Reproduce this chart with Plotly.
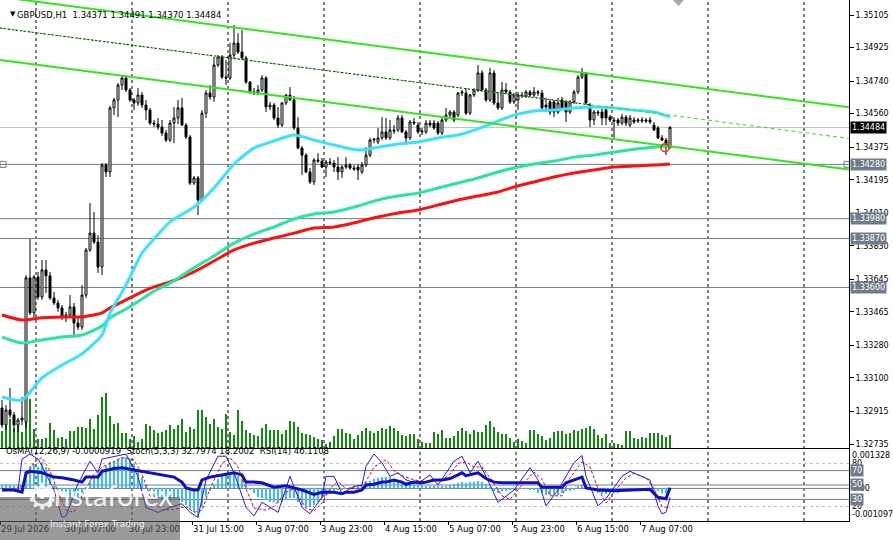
import numpy as np
import plotly.graph_objects as go

# ------------------------------------------------------------
# GBPUSD H1 bars (bar 0 = left edge)
# ------------------------------------------------------------
opens = [
    1.32934, 1.32840, 1.32923, 1.32895, 1.32840, 1.32868, 1.32857, 1.33653, 1.33459, 1.33658,
    1.33547, 1.33697, 1.33664, 1.33542, 1.33514, 1.33487, 1.33437, 1.33448, 1.33492, 1.33403,
    1.33381, 1.33558, 1.33807, 1.33900, 1.33851, 1.33713, 1.34276, 1.34238, 1.34592, 1.34636,
    1.34718, 1.34757, 1.34691, 1.34636, 1.34619, 1.34663, 1.34608, 1.34580, 1.34508, 1.34503,
    1.34486, 1.34453, 1.34414, 1.34508, 1.34536, 1.34592, 1.34497, 1.34431, 1.34177, 1.34205,
    1.34083, 1.34563, 1.34674, 1.34652, 1.34829, 1.34873, 1.34762, 1.34757, 1.34884, 1.34950,
    1.34901, 1.34868, 1.34735, 1.34680, 1.34674, 1.34691, 1.34757, 1.34597, 1.34608, 1.34536,
    1.34497, 1.34619, 1.34663, 1.34636, 1.34481, 1.34370, 1.34331, 1.34238, 1.34183, 1.34304,
    1.34298, 1.34265, 1.34293, 1.34287, 1.34265, 1.34238, 1.34265, 1.34276, 1.34260, 1.34265,
    1.34238, 1.34276, 1.34331, 1.34414, 1.34403, 1.34426, 1.34459, 1.34426, 1.34470, 1.34470,
    1.34536, 1.34459, 1.34426, 1.34514, 1.34497, 1.34459, 1.34459, 1.34508, 1.34508, 1.34508,
    1.34453, 1.34525, 1.34552, 1.34569, 1.34552, 1.34674, 1.34674, 1.34563, 1.34663, 1.34691,
    1.34785, 1.34691, 1.34636, 1.34785, 1.34619, 1.34592, 1.34691, 1.34680, 1.34625, 1.34636,
    1.34663, 1.34658, 1.34680, 1.34663, 1.34674, 1.34674, 1.34608, 1.34625, 1.34625, 1.34569,
    1.34636, 1.34625, 1.34569, 1.34625, 1.34680, 1.34762, 1.34785, 1.34608, 1.34525, 1.34569,
    1.34569, 1.34580, 1.34541, 1.34525, 1.34525, 1.34508, 1.34541, 1.34497, 1.34525, 1.34519,
    1.34519, 1.34525, 1.34525, 1.34497, 1.34481, 1.34426, 1.34414, 1.34371,
]
highs = [
    1.32978, 1.32950, 1.33045, 1.32912, 1.32879, 1.32995, 1.33669, 1.33867, 1.33669, 1.33686,
    1.33752, 1.33752, 1.33686, 1.33575, 1.33531, 1.33503, 1.33465, 1.33558, 1.33514, 1.33432,
    1.33613, 1.33818, 1.34066, 1.34017, 1.33889, 1.34287, 1.34287, 1.34603, 1.34647, 1.34729,
    1.34768, 1.34773, 1.34702, 1.34647, 1.34702, 1.34680, 1.34636, 1.34592, 1.34525, 1.34536,
    1.34525, 1.34470, 1.34525, 1.34597, 1.34636, 1.34647, 1.34508, 1.34442, 1.34216, 1.34216,
    1.34580, 1.34691, 1.34718, 1.34873, 1.34884, 1.34884, 1.34857, 1.34950, 1.35050, 1.35005,
    1.35022, 1.34879, 1.34740, 1.34702, 1.34718, 1.34773, 1.34768, 1.34625, 1.34619, 1.34597,
    1.34625, 1.34669, 1.34707, 1.34658, 1.34541, 1.34381, 1.34342, 1.34260, 1.34315, 1.34342,
    1.34315, 1.34304, 1.34315, 1.34304, 1.34320, 1.34276, 1.34320, 1.34287, 1.34276, 1.34282,
    1.34293, 1.34375, 1.34426, 1.34426, 1.34481, 1.34541, 1.34536, 1.34525, 1.34497, 1.34552,
    1.34552, 1.34470, 1.34525, 1.34536, 1.34514, 1.34481, 1.34525, 1.34525, 1.34525, 1.34519,
    1.34536, 1.34592, 1.34580, 1.34580, 1.34680, 1.34691, 1.34702, 1.34669, 1.34702, 1.34829,
    1.34801, 1.34702, 1.34813, 1.34801, 1.34680, 1.34735, 1.34729, 1.34691, 1.34674, 1.34680,
    1.34680, 1.34691, 1.34691, 1.34707, 1.34691, 1.34691, 1.34647, 1.34636, 1.34636, 1.34647,
    1.34652, 1.34636, 1.34636, 1.34691, 1.34773, 1.34813, 1.34790, 1.34619, 1.34580, 1.34580,
    1.34592, 1.34592, 1.34552, 1.34541, 1.34536, 1.34558, 1.34552, 1.34552, 1.34541, 1.34536,
    1.34541, 1.34536, 1.34541, 1.34514, 1.34492, 1.34442, 1.34426, 1.34491,
]
lows = [
    1.32824, 1.32813, 1.32879, 1.32802, 1.32802, 1.32840, 1.32824, 1.33448, 1.33432, 1.33531,
    1.33531, 1.33569, 1.33531, 1.33503, 1.33465, 1.33420, 1.33409, 1.33432, 1.33337, 1.33365,
    1.33365, 1.33542, 1.33796, 1.33840, 1.33680, 1.33669, 1.34210, 1.34210, 1.34552, 1.34541,
    1.34691, 1.34680, 1.34625, 1.34580, 1.34603, 1.34592, 1.34525, 1.34497, 1.34486, 1.34470,
    1.34437, 1.34403, 1.34403, 1.34397, 1.34503, 1.34492, 1.34420, 1.34166, 1.34166, 1.34000,
    1.34072, 1.34536, 1.34636, 1.34625, 1.34818, 1.34751, 1.34718, 1.34746, 1.34862, 1.34890,
    1.34857, 1.34724, 1.34669, 1.34663, 1.34663, 1.34680, 1.34569, 1.34580, 1.34525, 1.34481,
    1.34486, 1.34608, 1.34630, 1.34470, 1.34364, 1.34221, 1.34232, 1.34172, 1.34166, 1.34287,
    1.34260, 1.34210, 1.34276, 1.34238, 1.34194, 1.34205, 1.34254, 1.34249, 1.34243, 1.34194,
    1.34227, 1.34265, 1.34320, 1.34397, 1.34392, 1.34414, 1.34414, 1.34414, 1.34448, 1.34459,
    1.34453, 1.34403, 1.34414, 1.34497, 1.34448, 1.34442, 1.34448, 1.34486, 1.34470, 1.34442,
    1.34442, 1.34514, 1.34541, 1.34514, 1.34541, 1.34658, 1.34552, 1.34552, 1.34652, 1.34680,
    1.34680, 1.34625, 1.34625, 1.34608, 1.34580, 1.34580, 1.34669, 1.34614, 1.34614, 1.34580,
    1.34647, 1.34647, 1.34652, 1.34652, 1.34658, 1.34580, 1.34569, 1.34552, 1.34541, 1.34558,
    1.34580, 1.34514, 1.34558, 1.34614, 1.34669, 1.34751, 1.34608, 1.34486, 1.34497, 1.34547,
    1.34497, 1.34497, 1.34514, 1.34426, 1.34492, 1.34497, 1.34492, 1.34486, 1.34503, 1.34508,
    1.34508, 1.34508, 1.34503, 1.34464, 1.34420, 1.34409, 1.34331, 1.34370,
]
closes = [
    1.32840, 1.32923, 1.32895, 1.32840, 1.32868, 1.32879, 1.33653, 1.33459, 1.33658, 1.33547,
    1.33697, 1.33664, 1.33542, 1.33514, 1.33487, 1.33437, 1.33448, 1.33492, 1.33403, 1.33381,
    1.33558, 1.33807, 1.33900, 1.33851, 1.33713, 1.34276, 1.34238, 1.34592, 1.34636, 1.34718,
    1.34757, 1.34691, 1.34636, 1.34619, 1.34663, 1.34608, 1.34580, 1.34508, 1.34503, 1.34486,
    1.34453, 1.34414, 1.34508, 1.34536, 1.34592, 1.34497, 1.34431, 1.34177, 1.34205, 1.34083,
    1.34563, 1.34674, 1.34652, 1.34829, 1.34873, 1.34762, 1.34757, 1.34884, 1.34950, 1.34901,
    1.34868, 1.34735, 1.34680, 1.34674, 1.34691, 1.34757, 1.34597, 1.34608, 1.34536, 1.34497,
    1.34619, 1.34663, 1.34636, 1.34481, 1.34370, 1.34331, 1.34238, 1.34183, 1.34304, 1.34298,
    1.34265, 1.34293, 1.34287, 1.34265, 1.34238, 1.34265, 1.34276, 1.34260, 1.34254, 1.34249,
    1.34276, 1.34331, 1.34414, 1.34420, 1.34426, 1.34459, 1.34426, 1.34470, 1.34464, 1.34536,
    1.34459, 1.34426, 1.34514, 1.34508, 1.34459, 1.34464, 1.34508, 1.34497, 1.34481, 1.34453,
    1.34525, 1.34552, 1.34569, 1.34525, 1.34674, 1.34680, 1.34563, 1.34663, 1.34691, 1.34785,
    1.34691, 1.34636, 1.34785, 1.34619, 1.34592, 1.34691, 1.34680, 1.34625, 1.34663, 1.34663,
    1.34658, 1.34680, 1.34663, 1.34680, 1.34680, 1.34592, 1.34597, 1.34569, 1.34569, 1.34619,
    1.34592, 1.34569, 1.34625, 1.34680, 1.34762, 1.34785, 1.34619, 1.34525, 1.34569, 1.34563,
    1.34536, 1.34536, 1.34525, 1.34519, 1.34508, 1.34541, 1.34508, 1.34536, 1.34514, 1.34525,
    1.34525, 1.34519, 1.34514, 1.34470, 1.34426, 1.34414, 1.34375, 1.34484,
]
# tick volume (relative)
volumes = [
    17, 28, 29, 20, 27, 16, 57, 49, 19, 9, 9, 10, 25, 18, 10, 11, 9, 17, 17, 21,
    21, 20, 29, 19, 33, 51, 55, 32, 24, 25, 15, 15, 9, 12, 6, 9, 24, 22, 18, 15,
    16, 18, 23, 19, 23, 29, 16, 21, 19, 38, 38, 31, 24, 29, 21, 19, 34, 16, 13, 38,
    27, 18, 15, 13, 12, 20, 24, 18, 18, 18, 14, 18, 27, 26, 21, 15, 14, 13, 11, 9,
    8, 4, 6, 12, 19, 19, 15, 14, 9, 13, 17, 20, 17, 15, 17, 20, 19, 22, 20, 17,
    13, 12, 14, 14, 9, 6, 5, 5, 16, 14, 18, 10, 10, 12, 17, 20, 17, 14, 18, 16,
    16, 23, 27, 21, 16, 14, 14, 10, 6, 9, 7, 5, 18, 18, 14, 12, 8, 10, 16, 17,
    17, 14, 15, 18, 17, 19, 20, 22, 19, 13, 10, 14, 5, 5, 4, 3, 17, 17, 10, 9,
    11, 10, 15, 15, 15, 13, 11, 13,
]
# OsMA(12,26,9) histogram
osma = [
    0.000103, 0.000137, 0.000103, 0.000068, 0.000068, 0.000103,
    0.000581, 0.000752, 0.000821, 0.000718, 0.000889, 0.000718, 0.000410, 0.000137,
    -0.000034, -0.000137, -0.000205, -0.000274, -0.000376, -0.000308, -0.000137,
    0.000034, 0.000239, 0.000410, 0.000479, 0.000650, 0.000752, 0.000889, 0.000923,
    0.000992, 0.001060, 0.001060, 0.000992, 0.000821, 0.000581, 0.000376, 0.000137,
    -0.000103, -0.000274, -0.000308, -0.000376, -0.000445, -0.000445, -0.000376, -0.000308,
    -0.000445, -0.000547, -0.000718, -0.000787, -0.000958, -0.000616, -0.000274, -0.000103,
    0.000137, 0.000308, 0.000410, 0.000479, 0.000479, 0.000479, 0.000410, 0.000308, 0.000205,
    -0.000034, -0.000137, -0.000274, -0.000308, -0.000376, -0.000445, -0.000445, -0.000479,
    -0.000445, -0.000376, -0.000308, -0.000308, -0.000445, -0.000547, -0.000616, -0.000616,
    -0.000547, -0.000445, -0.000308, -0.000205, -0.000137, -0.000103, -0.000068, -0.000034,
    0.000005,
    0.000034, 0.000068, 0.000068, 0.000103, 0.000205, 0.000239, 0.000308, 0.000342, 0.000376,
    0.000376, 0.000376, 0.000308, 0.000274, 0.000239, 0.000205, 0.000171, 0.000171, 0.000137,
    0.000103, 0.000068, 0.000068, 0.000068, 0.000068, 0.000068, 0.000068, 0.000103, 0.000137,
    0.000171, 0.000205, 0.000171, 0.000205, 0.000205, 0.000239, 0.000205, 0.000137, 0.000034,
    -0.000103, -0.000137, -0.000103, -0.000103, -0.000068, -0.000034, -0.000010, 0.000008,
    -0.000012, -0.000034, -0.000068, -0.000137, -0.000137, -0.000205, -0.000205, -0.000205,
    -0.000205, -0.000137, -0.000103, -0.000103, -0.000034,
    0.000068, 0.000103, 0.000034,
    -0.000068, -0.000103, -0.000137, -0.000171, -0.000171, -0.000137, -0.000137, -0.000137,
    -0.000103, -0.000103, -0.000068, -0.000068, -0.000034, -0.000034, -0.000034, -0.000034,
    -0.000068, -0.000103, -0.000137, -0.000137, -0.0000919,
]

# moving averages, sampled along the bars
ma_bars = [0, 5, 10, 15, 20, 25, 27, 31, 35, 38, 42, 48, 53, 58, 63, 68, 73, 78,
           83, 89, 94, 99, 104, 109, 114, 119, 124, 128, 133, 138, 143, 148, 153, 158, 163, 167]
ma_fast = [1.32995, 1.32978, 1.33100, 1.33171, 1.33233, 1.33337, 1.33459, 1.33613, 1.33790, 1.33867,
           1.33962, 1.34044, 1.34149, 1.34282, 1.34370, 1.34409, 1.34442, 1.34414, 1.34387, 1.34359,
           1.34375, 1.34392, 1.34403, 1.34426, 1.34442, 1.34476, 1.34519, 1.34552, 1.34575, 1.34580,
           1.34592, 1.34597, 1.34592, 1.34580, 1.34569, 1.34541]
ma_mid = [1.33326, 1.33293, 1.33310, 1.33326, 1.33337, 1.33387, 1.33432, 1.33481, 1.33536, 1.33580,
          1.33624, 1.33708, 1.33774, 1.33845, 1.33895, 1.33934, 1.33978, 1.34006, 1.34017, 1.34050,
          1.34083, 1.34105, 1.34121, 1.34149, 1.34177, 1.34205, 1.34238, 1.34260, 1.34282, 1.34298,
          1.34320, 1.34331, 1.34348, 1.34364, 1.34375, 1.34381]
ma_slow = [1.33448, 1.33420, 1.33432, 1.33437, 1.33437, 1.33459, 1.33487, 1.33531, 1.33575, 1.33603,
           1.33630, 1.33686, 1.33746, 1.33807, 1.33845, 1.33873, 1.33900, 1.33928, 1.33934, 1.33962,
           1.33989, 1.34011, 1.34028, 1.34055, 1.34083, 1.34105, 1.34127, 1.34155, 1.34183, 1.34210,
           1.34232, 1.34249, 1.34265, 1.34271, 1.34276, 1.34282]

# RSI(14) and Stoch(5,3,3)
rsi_bars = [0, 3, 5, 6, 7, 10, 13, 15, 18, 20, 21, 24, 25, 28, 30, 33, 35, 38, 41, 43,
            45, 46, 48, 49, 50, 52, 55, 58, 60, 61, 63, 65, 68, 71, 73, 75, 78, 80, 83, 85,
            86, 88, 90, 91, 93, 95, 96, 98, 100, 101, 103, 105, 106, 108, 110, 112, 114, 115, 116, 119,
            121, 123, 125, 129, 134, 135, 140, 141, 144, 145, 146, 149, 153, 156, 159, 162, 164, 166, 167]
rsi_vals = [43, 43, 40, 67, 69, 67, 61, 60, 57, 54, 61, 61, 69, 73, 74, 71, 69, 67, 64, 61,
            54, 46, 43, 43, 57, 61, 64, 67, 64, 54, 54, 53, 47, 49, 46, 43, 37, 40, 40, 38,
            40, 40, 43, 50, 51, 54, 54, 57, 54, 51, 54, 53, 54, 57, 57, 59, 64, 67, 63, 67,
            59, 54, 53, 53, 53, 47, 47, 53, 59, 61, 46, 43, 42, 43, 44, 44, 33, 31, 46.11]
stoch_bars = [0, 4, 5, 7, 9, 10, 13, 15, 16, 19, 22, 24, 25, 28, 31, 34, 36, 39, 42, 45,
              47, 49, 51, 54, 56, 58, 61, 63, 65, 69, 72, 75, 77, 80, 81, 83, 85, 88, 90, 91,
              93, 95, 97, 99, 101, 104, 107, 109, 111, 113, 115, 117, 119, 121, 124, 128, 132, 134, 136, 139,
              143, 145, 146, 149, 151, 155, 157, 160, 162, 164, 165, 166, 167]
stoch_main = [43, 43, 86, 93, 86, 76, 43, 5, 7, 52, 83, 67, 86, 90, 93, 62, 19, 12, 19, 24,
              12, 5, 57, 90, 90, 67, 19, 7, 26, 12, 62, 19, 10, 33, 62, 62, 38, 48, 50, 76,
              93, 81, 62, 67, 57, 52, 64, 50, 67, 83, 90, 67, 83, 62, 26, 43, 74, 57, 21, 43,
              81, 91, 62, 21, 31, 62, 69, 62, 57, 21, 10, 12, 32.80]
signal_bars = [0, 4, 6, 8, 10, 12, 14, 16, 18, 20, 23, 25, 27, 30, 33, 35, 37, 40, 43, 46,
               48, 50, 52, 55, 57, 59, 61, 63, 66, 68, 71, 73, 76, 78, 80, 82, 84, 86, 89, 91,
               93, 96, 98, 100, 103, 106, 108, 110, 112, 114, 116, 118, 120, 122, 125, 127, 130, 133, 135, 137,
               140, 142, 145, 147, 149, 151, 153, 156, 158, 161, 163, 165, 167]
stoch_signal = [45, 42, 60, 82, 88, 70, 40, 15, 12, 35, 65, 75, 80, 88, 85, 65, 35, 15, 16, 20,
                12, 15, 45, 80, 88, 75, 45, 18, 15, 20, 40, 45, 18, 14, 25, 45, 55, 45, 45, 55,
                75, 85, 70, 63, 57, 55, 57, 57, 65, 80, 82, 75, 75, 60, 35, 30, 50, 68, 58, 35,
                35, 60, 82, 75, 45, 25, 40, 60, 66, 60, 45, 20, 18.20]

# chart objects
channel_bars = [-0.5, 211.75]
channel_upper = [1.35205, 1.34595]
channel_mid = [1.35033, 1.34423]
channel_lower = [1.34857, 1.34252]
mid_dotted_until = 147
level_prices = [1.34280, 1.33980, 1.33870, 1.33600]
last_price = 1.34484
signal_mark_bar = [165.75]
signal_mark_price = [1.34372]

price_ticks = [1.35105, 1.34925, 1.34740, 1.34560, 1.34375, 1.34195, 1.34010,
               1.33830, 1.33645, 1.33465, 1.33280, 1.33100, 1.32915, 1.32735]
date_labels = ["29 Jul 2026", "30 Jul 07:00", "30 Jul 23:00", "31 Jul 15:00", "3 Aug 07:00",
               "3 Aug 23:00", "4 Aug 15:00", "5 Aug 07:00", "5 Aug 23:00", "6 Aug 15:00", "7 Aug 07:00"]
day_breaks = [8.5, 32.5, 56.5, 80.5, 104.5, 128.5, 152.5, 176.5, 200.5]

assert len(opens) == len(highs) == len(lows) == len(closes) == len(volumes) == len(osma) == 168

# ------------------------------------------------------------
# layout geometry (pixels of the 893x540 window)
# ------------------------------------------------------------
W, H = 893, 540
PW, PH = 849, 521            # plot area
MAIN_BOTTOM, SUB_TOP = 448, 449
FONT = "DejaVu Sans"
SLATE = "#6f7c8b"


def py(px):
    return (PH - px) / PH


def pxx(px):
    return px / PW


bars = list(range(len(closes)))
x_range = [-0.5, 211.75]
price_range = [1.32713, 1.35188]
osma_range = [-0.001097, 0.001328]

fig = go.Figure()

# volumes on the base axis so candles sit on top of them
fig.add_trace(go.Bar(x=bars, y=volumes, width=0.2, xaxis="x", yaxis="y",
                     marker=dict(color="#128a12", line=dict(width=0)), hoverinfo="skip"))

fig.add_trace(go.Candlestick(
    x=bars, open=opens, high=highs, low=lows, close=closes, xaxis="x", yaxis="y5",
    increasing=dict(line=dict(color="black", width=1), fillcolor="white"),
    decreasing=dict(line=dict(color="black", width=1), fillcolor="black"),
    whiskerwidth=0,
))

for vals, col in [(ma_slow, "#ff1010"), (ma_mid, "#26e6a2"), (ma_fast, "#38e3ff")]:
    fig.add_trace(go.Scatter(x=ma_bars, y=vals, mode="lines", xaxis="x", yaxis="y5",
                             line=dict(color=col, width=3, shape="spline", smoothing=0.6)))

# channel
green = "#33e61c"
fig.add_trace(go.Scatter(x=channel_bars, y=channel_upper, mode="lines", xaxis="x", yaxis="y5",
                         line=dict(color=green, width=2)))
fig.add_trace(go.Scatter(x=channel_bars, y=channel_lower, mode="lines", xaxis="x", yaxis="y5",
                         line=dict(color=green, width=2)))
fig.add_trace(go.Scatter(x=channel_bars, y=channel_mid, mode="lines", xaxis="x", yaxis="y5",
                         line=dict(color=green, width=1, dash="4px,3px")))
mid_end = float(np.interp(mid_dotted_until, channel_bars, channel_mid))
fig.add_trace(go.Scatter(x=[channel_bars[0], mid_dotted_until], y=[channel_mid[0], mid_end],
                         mode="lines", xaxis="x", yaxis="y5",
                         line=dict(color="#222222", width=1, dash="2px,2px")))

fig.add_trace(go.Scatter(x=signal_mark_bar, y=signal_mark_price, mode="markers", xaxis="x", yaxis="y5",
                         marker=dict(symbol="circle-open", size=8, color="#ff2020", line=dict(width=1.5))))
fig.add_trace(go.Scatter(x=[x_range[0] + 0.75, x_range[1] - 0.5], y=[level_prices[0]] * 2,
                         mode="markers", xaxis="x", yaxis="y5",
                         marker=dict(symbol="square-open", size=6, color=SLATE, line=dict(width=1))))

# sub window
fig.add_trace(go.Bar(x=bars, y=osma, width=0.7, xaxis="x2", yaxis="y2",
                     marker=dict(color="#3dbdf0", line=dict(width=0))))
fig.add_trace(go.Scatter(x=signal_bars, y=stoch_signal, mode="lines", xaxis="x2", yaxis="y4",
                         line=dict(color="#ff0000", width=1, dash="3px,2px")))
fig.add_trace(go.Scatter(x=stoch_bars, y=stoch_main, mode="lines", xaxis="x2", yaxis="y4",
                         line=dict(color="#1a1aff", width=1)))
fig.add_trace(go.Scatter(x=rsi_bars, y=rsi_vals, mode="lines", xaxis="x2", yaxis="y4",
                         line=dict(color="#1010c0", width=3)))

shapes = []
for b in day_breaks:
    shapes.append(dict(type="line", xref="x", yref="paper", x0=b, x1=b, y0=0, y1=1,
                       line=dict(color="black", width=1, dash="3px,3px"), layer="below"))
shapes.append(dict(type="line", xref="paper", yref="y5", x0=0, x1=1, y0=last_price, y1=last_price,
                   line=dict(color="#c0c0c0", width=1), layer="below"))
for p in level_prices:
    shapes.append(dict(type="line", xref="paper", yref="y5", x0=0, x1=1, y0=p, y1=p,
                       line=dict(color=SLATE, width=1), layer="below"))
for v in [80, 20]:
    shapes.append(dict(type="line", xref="paper", yref="y4", x0=0, x1=1, y0=v, y1=v,
                       line=dict(color="#bdbdbd", width=1, dash="3px,3px"), layer="below"))
for v in [70, 50, 30]:
    shapes.append(dict(type="line", xref="paper", yref="y4", x0=0, x1=1, y0=v, y1=v,
                       line=dict(color=SLATE, width=1), layer="below"))
shapes.append(dict(type="line", xref="paper", yref="y2", x0=0, x1=1, y0=0, y1=0,
                   line=dict(color=SLATE, width=1), layer="below"))
# chart shift marker
shapes.append(dict(type="path", xref="paper", yref="paper",
                   path=f"M {pxx(673)},{py(0)} L {pxx(684)},{py(0)} L {pxx(678.5)},{py(6)} Z",
                   fillcolor="#a8a8a8", line=dict(width=0)))
# watermark box
shapes.append(dict(type="rect", xref="paper", yref="paper", x0=0, x1=pxx(180),
                   y0=py(540), y1=py(497), fillcolor="rgba(92,92,92,0.62)",
                   line=dict(width=0), layer="above"))

ann = []


def label(text, y, yref, bg=None, color="black", yanchor="middle"):
    ann.append(dict(text=text, xref="paper", x=1, xanchor="left", xshift=1, y=y, yref=yref,
                    yanchor=yanchor, showarrow=False, bgcolor=bg, borderpad=1,
                    font=dict(family=FONT, size=8, color=color)))


label(f"{last_price:.5f}", last_price, "y5", bg="black", color="white")
for p in level_prices:
    label(f"{p:.5f}", p, "y5", bg=SLATE, color="white")
label(f"{osma_range[1]:.6f}", osma_range[1], "y2", yanchor="top")
label(f"{osma_range[0]:.6f}", osma_range[0], "y2", yanchor="bottom")
label("80", 80, "y4")
label("20", 20, "y4")
label("0.00", 0, "y2")
for v in [70, 50, 30]:
    label(str(v), v, "y4", bg=SLATE, color="white")

ann.append(dict(text="▼", xref="paper", yref="paper", x=pxx(8), y=py(8), showarrow=False,
                font=dict(family=FONT, size=7, color="black")))
ann.append(dict(text="GBPUSD,H1  1.34371 1.34491 1.34370 1.34484", xref="paper", yref="paper",
                x=pxx(15), y=py(8), xanchor="left", showarrow=False,
                font=dict(family=FONT, size=8.5, color="black")))
ann.append(dict(text="OsMA(12,26,9) -0.0000919  Stoch(5,3,3) 32.7974 18.2002  RSI(14) 46.1108",
                xref="paper", yref="paper", x=pxx(4), y=py(458), xanchor="left", showarrow=False,
                font=dict(family=FONT, size=8.5, color="black")))
ann.append(dict(text="⚙", xref="paper", yref="paper", x=pxx(24), y=py(519), showarrow=False,
                font=dict(family=FONT, size=36, color="rgba(255,255,255,0.85)")))
ann.append(dict(text="instaforex", xref="paper", yref="paper", x=pxx(45), y=py(514), xanchor="left",
                showarrow=False, font=dict(family="Lato", size=29, color="rgba(255,255,255,0.9)")))
ann.append(dict(text="Instant Forex Trading", xref="paper", yref="paper", x=pxx(48), y=py(531),
                xanchor="left", showarrow=False,
                font=dict(family=FONT, size=9, color="rgba(255,255,255,0.85)")))

main_dom = [py(MAIN_BOTTOM), 1]
sub_dom = [0, py(SUB_TOP)]

fig.update_layout(
    width=W, height=H,
    margin=dict(l=0, r=W - PW, t=0, b=H - PH, pad=0),
    paper_bgcolor="white", plot_bgcolor="white",
    showlegend=False, bargap=0,
    font=dict(family=FONT, size=8, color="black"),
    shapes=shapes, annotations=ann,
    xaxis=dict(domain=[0, 1], range=x_range, anchor="y", showticklabels=False, showgrid=False,
               zeroline=False, showline=True, linecolor="black", linewidth=1, ticks="",
               rangeslider=dict(visible=False)),
    xaxis2=dict(domain=[0, 1], matches="x", anchor="y2", showgrid=False, zeroline=False,
                showline=True, mirror=True, linecolor="black", linewidth=1,
                tickmode="array", tickvals=[16 * k - 0.5 for k in range(len(date_labels))],
                ticktext=date_labels, ticks="outside", ticklen=3, tickcolor="black",
                ticklabelposition="outside right", tickfont=dict(family=FONT, size=8.5)),
    yaxis=dict(domain=main_dom, range=[0, MAIN_BOTTOM], anchor="x", visible=False),
    yaxis5=dict(overlaying="y", anchor="x", side="right", range=price_range,
                tickmode="array", tickvals=price_ticks, ticktext=[f"{t:.5f}" for t in price_ticks],
                ticks="outside", ticklen=4, tickcolor="black", showgrid=False, zeroline=False,
                showline=True, mirror=True, linecolor="black", linewidth=1,
                tickfont=dict(family=FONT, size=8)),
    yaxis2=dict(domain=sub_dom, range=osma_range, anchor="x2", side="right", showticklabels=False,
                ticks="", showgrid=False, zeroline=False, showline=True, mirror=True,
                linecolor="black", linewidth=1),
    yaxis4=dict(overlaying="y2", anchor="x2", range=[0, 100], visible=False),
)

# the page opens in a window exactly the figure's size: drop the default body margin
fig.write_html("out.html", config={"displayModeBar": False},
               post_script="document.body.style.margin='0px';")
